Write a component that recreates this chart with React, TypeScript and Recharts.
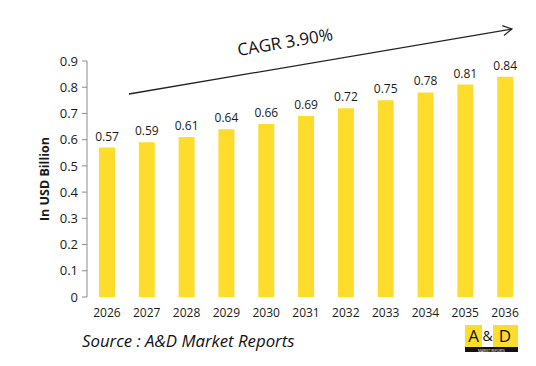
import React from "react";
import { BarChart, Bar, XAxis, YAxis, LabelList } from "recharts";

const years = ["2026", "2027", "2028", "2029", "2030", "2031", "2032", "2033", "2034", "2035", "2036"];
const values = [0.57, 0.59, 0.61, 0.64, 0.66, 0.69, 0.72, 0.75, 0.78, 0.81, 0.84];
const yTicks = [0, 0.1, 0.2, 0.3, 0.4, 0.5, 0.6, 0.7, 0.8, 0.9];
const edgeTicks = [0, 1, 2, 3, 4, 5, 6, 7, 8, 9, 10, 11];

const data = years.map((y, i) => ({ year: y, value: values[i], edge: i + 0.5 }));

const FONT = "'Open Sans', 'Noto Sans', sans-serif";
const YELLOW = "#FEDC2C";
const AXIS = "#8c8c8c";

export default function App() {
  return (
    <div style={{ position: "absolute", left: 0, top: 0, width: 536, height: 366, background: "#fff", fontFamily: FONT }}>
      <BarChart width={536} height={366} data={data} margin={{ top: 61, right: 11, bottom: 39, left: 0 }} barCategoryGap={0}>
        <XAxis
          xAxisId="edges"
          type="number"
          dataKey="edge"
          domain={[0, 11]}
          ticks={edgeTicks}
          height={0}
          tick={false}
          tickSize={5}
          stroke={AXIS}
          axisLine={{ stroke: AXIS }}
          tickLine={{ stroke: AXIS }}
        />
        <XAxis
          dataKey="year"
          height={30}
          axisLine={false}
          tickLine={false}
          tickMargin={5}
          tick={{ fontSize: 12, fill: "#1a1a1a", fontFamily: FONT }}
          interval={0}
        />
        <YAxis
          domain={[0, 0.9]}
          ticks={yTicks}
          width={87}
          tickSize={5}
          tickMargin={4}
          stroke={AXIS}
          tick={{ fontSize: 13, fill: "#1a1a1a", fontFamily: FONT }}
          tickFormatter={(v) => String(Math.round(v * 10) / 10)}
          label={{
            value: "In USD Billion",
            angle: -90,
            position: "insideLeft",
            dx: 40,
            style: { fontSize: 12.5, fontWeight: 700, fill: "#1a1a1a", fontFamily: FONT, textAnchor: "middle" },
          }}
        />
        <Bar dataKey="value" fill={YELLOW} barSize={16} isAnimationActive={false}>
          <LabelList dataKey="value" position="top" offset={7} style={{ fontSize: 12, fill: "#1a1a1a", fontFamily: FONT }} />
        </Bar>
      </BarChart>
      <svg width={536} height={366} style={{ position: "absolute", left: 0, top: 0, pointerEvents: "none" }}>
        <defs>
          <marker id="arr" markerWidth="12" markerHeight="12" refX="10" refY="6" orient="auto" markerUnits="userSpaceOnUse">
            <path d="M1,1 L10,6 L1,11" fill="none" stroke="#222" strokeWidth={1.2} />
          </marker>
        </defs>
        <line x1={129} y1={94} x2={512} y2={29} stroke="#222" strokeWidth={1.3} markerEnd="url(#arr)" />
        <text x={286} y={48} transform="rotate(-9.6 286 48)" textAnchor="middle" fontSize={17} fill="#111" fontFamily={FONT}>
          CAGR 3.90%
        </text>
        <text x={82} y={347} fontSize={16.8} fontStyle="italic" fill="#111" fontFamily={FONT}>
          Source : A&amp;D Market Reports
        </text>
        <rect x={465} y={325} width={53} height={22} fill={YELLOW} />
        <rect x={482} y={325} width={11} height={22} fill="#fff" />
        <rect x={465} y={347} width={53} height={5} fill="#111" />
        <text x={473.5} y={342} textAnchor="middle" fontSize={17} fill="#111" fontFamily={FONT}>A</text>
        <text x={487.5} y={341} textAnchor="middle" fontSize={14} fill="#111" fontFamily={FONT}>&amp;</text>
        <text x={505} y={342} textAnchor="middle" fontSize={17} fill="#111" fontFamily={FONT}>D</text>
        <text x={491.5} y={351.5} textAnchor="middle" fontSize={3.2} fill="#fff" fontFamily={FONT}>MARKET REPORTS</text>
      </svg>
    </div>
  );
}
